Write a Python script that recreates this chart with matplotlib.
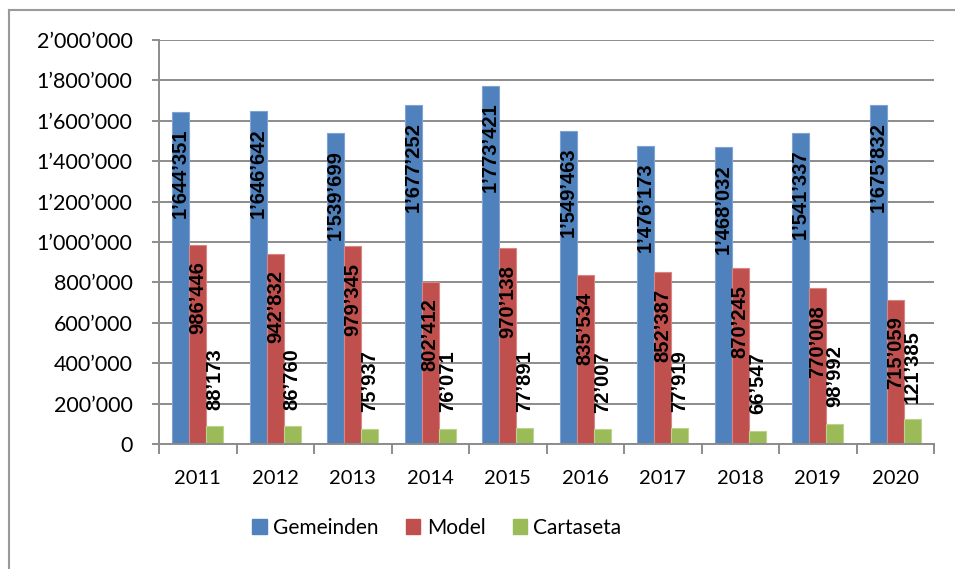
import matplotlib.pyplot as plt
import numpy as np
from matplotlib.lines import Line2D
from matplotlib.patches import Patch

years = ["2011", "2012", "2013", "2014", "2015", "2016", "2017", "2018", "2019", "2020"]
gemeinden = [1644351, 1646642, 1539699, 1677252, 1773421, 1549463, 1476173, 1468032, 1541337, 1675832]
model = [986446, 942832, 979345, 802412, 970138, 835534, 852387, 870245, 770008, 715059]
cartaseta = [88173, 86760, 75937, 76071, 77891, 72007, 77919, 66547, 98992, 121385]
series_names = ["Gemeinden", "Model", "Cartaseta"]
y_ticks = [0, 200000, 400000, 600000, 800000, 1000000, 1200000, 1400000, 1600000, 1800000, 2000000]

colors = ["#4F81BD", "#C0504D", "#9BBB59"]
edges = ["#7FA3D3", "#D88583", "#BBD38C"]
grid_col = "#8C8C8C"


def fmt(v):
    return f"{v:,}".replace(",", "\u2019")


fig = plt.figure(figsize=(9.55, 5.69), dpi=100)
ax = fig.add_axes([159 / 955, 1 - 444 / 569, (934 - 159) / 955, (444 - 40) / 569])

x = np.arange(len(years))
w = 0.22
all_series = [gemeinden, model, cartaseta]
for k, vals in enumerate(all_series):
    pos = x + (k - 1) * w
    ax.bar(pos, vals, width=w, color=colors[k], edgecolor=edges[k], linewidth=0.8, zorder=2)
    for px, v in zip(pos, vals):
        if k < 2:
            ax.annotate(fmt(v), (px, v), xytext=(0, -12), textcoords="offset points",
                        rotation=90, ha="center", va="top", fontsize=14.5,
                        fontweight="bold", family="Liberation Sans", zorder=3)
        else:
            ax.annotate(fmt(v), (px, v), xytext=(0, 12), textcoords="offset points",
                        rotation=90, ha="center", va="bottom", fontsize=14.5,
                        fontweight="bold", family="Liberation Sans", zorder=3)

ax.set_xlim(-0.5, len(years) - 0.5)
ax.set_ylim(0, 2000000)
ax.set_yticks(y_ticks)
ax.set_yticklabels([fmt(t) for t in y_ticks], family="Lato", fontsize=15.5)
ax.yaxis.grid(True, color=grid_col, linewidth=1.4, zorder=0)
ax.set_axisbelow(True)

ax.set_xticks(np.arange(len(years) + 1) - 0.5)
ax.set_xticklabels([])
ax.set_xticks(x, minor=True)
ax.set_xticklabels(years, minor=True, family="Lato", fontsize=14.5)
ax.tick_params(axis="x", which="major", length=7, width=1.4, color=grid_col, direction="out")
ax.tick_params(axis="x", which="minor", length=0, pad=19)
ax.tick_params(axis="y", length=5, width=1.4, color=grid_col, pad=14)

for s in ["top", "right"]:
    ax.spines[s].set_visible(False)
for s in ["left", "bottom"]:
    ax.spines[s].set_color(grid_col)
    ax.spines[s].set_linewidth(1.4)

handles = [Patch(facecolor=colors[k], edgecolor=colors[k]) for k in range(3)]
fig.legend(handles, series_names, loc="center", bbox_to_anchor=(437 / 955, 1 - 528 / 569),
           ncol=3, frameon=False, prop={"family": "Lato", "size": 15},
           handlelength=0.7, handleheight=0.7, handletextpad=0.3, columnspacing=1.3)

# outer chart border (left and top visible)
fig.add_artist(Line2D([9 / 955, 9 / 955], [0, 1 - 10 / 569], color="#9A9A9A", linewidth=1.5))
fig.add_artist(Line2D([9 / 955, 1], [1 - 10 / 569, 1 - 10 / 569], color="#9A9A9A", linewidth=1.5))

fig.savefig("out.png", dpi=100)
